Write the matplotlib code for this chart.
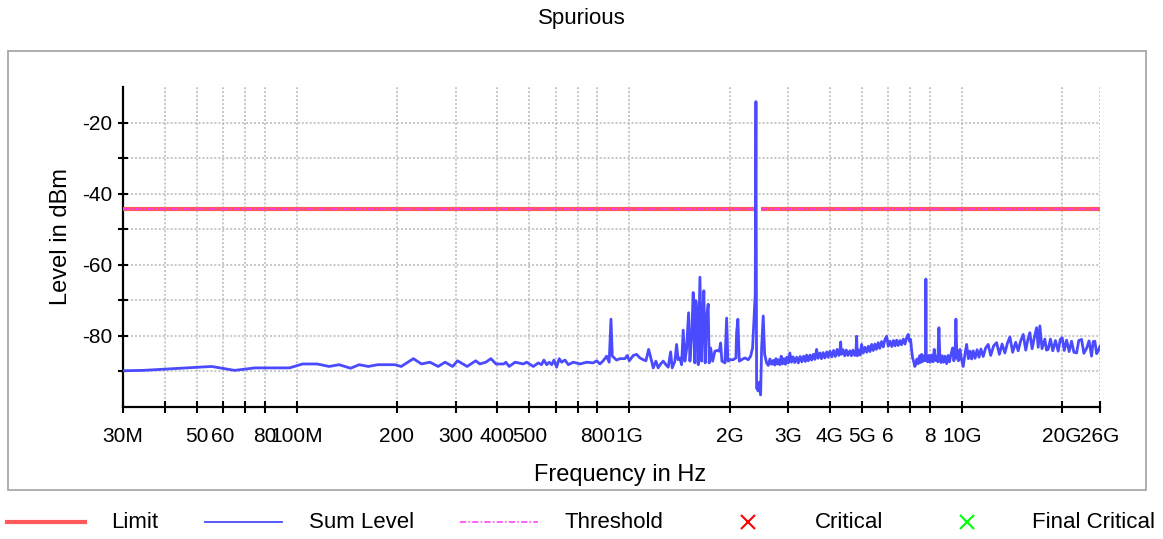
import numpy as np
import matplotlib
matplotlib.use("Agg")
import matplotlib.pyplot as plt
from matplotlib.lines import Line2D
from matplotlib.patches import Rectangle

plt.rcParams['font.family'] = ['Liberation Sans', 'DejaVu Sans']

# Sum level trace (frequency in MHz, level in dBm)
# 30 MHz - 1 GHz
freq_a = [30, 34.5, 55.4, 65, 74.8, 95, 104, 115, 125, 134, 145, 154, 164, 175, 197, 206,
          224, 237, 251, 266, 279, 294, 304, 325, 345, 355, 370, 383, 397, 419, 425, 435,
          453, 479, 491, 514, 532, 544, 553, 564, 574, 584, 593, 604, 615, 625, 640, 655,
          678, 710, 744, 778, 797, 815, 834, 854, 869, 880, 888, 915, 936, 969, 985, 999]
level_a = [-89.8, -89.7, -88.6, -89.7, -89.0, -89.0, -87.9, -87.9, -88.6, -88.1, -89.1, -88.1,
           -88.6, -88.1, -88.1, -88.6, -86.4, -87.9, -87.4, -88.6, -87.4, -88.6, -87.0, -88.6,
           -87.0, -87.9, -87.4, -86.4, -87.9, -87.9, -87.4, -88.6, -87.4, -87.9, -87.4, -88.6,
           -87.6, -88.1, -86.8, -88.1, -87.4, -88.1, -86.8, -88.8, -86.4, -87.4, -86.8, -88.1,
           -87.4, -87.9, -87.4, -87.6, -87.0, -87.9, -87.0, -85.7, -87.4, -75.3, -85.7, -86.8,
           -86.4, -86.4, -85.5, -87.0]

# 1 GHz - 2.55 GHz
freq_b = [1027, 1051, 1075, 1100, 1121, 1142, 1166, 1179, 1201, 1220, 1241, 1264, 1287, 1308,
          1330, 1345, 1370, 1386, 1401, 1418, 1435, 1451, 1468, 1485, 1506, 1520, 1538, 1555,
          1573, 1584, 1598, 1610, 1629, 1648, 1659, 1674, 1689, 1706, 1725, 1737, 1754, 1779,
          1807, 1836, 1862, 1880, 1897, 1937, 1960, 1977, 2005, 2051, 2090, 2100, 2119, 2139,
          2174, 2225, 2276, 2314, 2346, 2368, 2389, 2401, 2412, 2439, 2459, 2480, 2497, 2525,
          2550]
level_b = [-85.5, -85.2, -86.2, -86.7, -87.0, -83.8, -87.1, -89.0, -87.1, -89.0, -87.9, -87.1,
           -88.1, -88.8, -84.5, -89.0, -87.1, -82.4, -86.7, -86.2, -88.1, -78.4, -87.1, -83.8,
           -73.5, -87.1, -80.5, -67.8, -87.6, -70.1, -74.4, -88.1, -63.5, -87.1, -75.3, -67.3,
           -87.6, -74.9, -71.1, -87.6, -83.4, -87.1, -84.3, -84.1, -84.3, -82.0, -87.1, -87.6,
           -75.0, -87.1, -86.7, -86.7, -86.2, -79.1, -75.3, -87.1, -86.7, -86.2, -86.7, -85.7,
           -83.4, -75.8, -68.2, -14.1, -94.7, -95.5, -93.0, -96.6, -83.4, -74.4, -85.2]

# 2.55 GHz - 26 GHz
freq_c = [2585, 2615, 2645, 2675, 2706, 2735, 2757, 2780, 2801, 2830, 2860, 2885, 2915, 2945,
          2975, 3005, 3037, 3070, 3105, 3140, 3183, 3220, 3260, 3300, 3340, 3380, 3411, 3450,
          3490, 3530, 3571, 3610, 3655, 3690, 3740, 3780, 3826, 3870, 3920, 3960, 4008, 4060,
          4110, 4160, 4210, 4260, 4300, 4317, 4335, 4390, 4440, 4490, 4540, 4600, 4650, 4700,
          4760, 4800, 4821, 4845, 4890, 4940, 4990, 5050, 5110, 5170, 5230, 5290, 5349, 5410,
          5470, 5530, 5598, 5660, 5730, 5800, 5865, 5934, 6000, 6072, 6150, 6220, 6290, 6360,
          6430, 6508, 6580, 6660, 6740, 6815, 6890, 6950, 7006, 7060, 7103, 7167, 7210, 7253,
          7320, 7386, 7450, 7510, 7561, 7620, 7680, 7740, 7770, 7788, 7810, 7880, 7950, 8020,
          8103, 8180, 8250, 8320, 8400, 8460, 8523, 8580, 8650, 8720, 8800, 8880, 8989, 9080,
          9170, 9260, 9371, 9450, 9530, 9588, 9650, 9760, 9857, 9960, 10084, 10200, 10325,
          10450, 10570, 10690, 10806, 10950, 11100, 11250, 11400, 11580, 11780, 11987, 12200,
          12450, 12709, 12950, 13200, 13459, 13700, 13934, 14200, 14500, 14756, 15000, 15277,
          15550, 15800, 15999, 16250, 16500, 16758, 16950, 17145, 17400, 17749, 17950, 18158,
          18450, 18750, 19100, 19461, 19750, 20007, 20300, 20630, 21000, 21354, 21700, 22107,
          22450, 22884, 23250, 23690, 24100, 24524, 24800, 25093, 25400, 25672, 26000]
level_c = [-87.6, -88.3, -86.5, -88.0, -86.9, -88.2, -86.4, -87.9, -86.7, -88.1, -85.7, -87.9,
           -86.4, -88.0, -86.0, -87.6, -84.8, -87.4, -85.9, -87.5, -86.0, -87.6, -85.8, -87.3,
           -85.7, -87.2, -85.4, -87.0, -85.4, -86.8, -85.2, -86.6, -83.8, -86.3, -84.8, -86.4,
           -84.7, -86.2, -84.5, -86.0, -84.3, -85.9, -84.1, -85.8, -83.8, -85.5, -83.6, -81.7,
           -85.2, -83.9, -85.6, -84.0, -85.5, -84.2, -85.6, -84.0, -85.5, -84.3, -80.1, -85.6,
           -84.0, -85.4, -82.4, -84.8, -83.2, -84.6, -82.9, -84.4, -82.4, -84.1, -82.3, -83.8,
           -81.9, -83.5, -81.6, -83.1, -81.0, -80.1, -82.9, -81.5, -83.0, -81.3, -82.8, -81.2,
           -82.7, -81.3, -82.5, -80.9, -82.3, -80.5, -79.6, -81.5, -81.0, -84.3, -86.2, -87.4,
           -88.6, -88.2, -86.5, -87.8, -85.6, -87.5, -85.2, -87.2, -85.6, -87.0, -85.8, -64.0,
           -85.7, -87.3, -85.5, -87.4, -85.4, -87.3, -83.8, -86.9, -85.7, -87.3, -77.7, -86.0,
           -87.5, -85.6, -87.4, -85.7, -87.8, -85.5, -87.3, -85.3, -83.4, -87.0, -85.8, -75.3,
           -86.0, -87.0, -83.8, -86.5, -88.6, -85.3, -82.4, -86.4, -84.3, -86.5, -84.2, -86.3,
           -83.9, -86.0, -83.7, -85.8, -83.4, -82.4, -85.5, -82.8, -81.9, -85.2, -82.3, -84.8,
           -82.0, -80.3, -84.6, -81.8, -84.2, -81.5, -79.6, -84.0, -80.8, -79.1, -83.6, -80.5,
           -77.7, -83.2, -77.2, -83.6, -80.9, -84.0, -83.8, -80.9, -84.2, -81.3, -84.3, -81.0,
           -80.5, -84.1, -81.2, -84.4, -81.5, -84.6, -84.8, -81.3, -81.0, -84.9, -83.5, -81.4,
           -85.7, -81.6, -81.5, -85.0, -84.3, -82.9]

# limit / threshold (gap over the 2.4 GHz ISM band)
limit_freq_lo = [30, 2400]
limit_freq_hi = [2483.5, 26000]
limit_level = -44.2

xtick_vals = [30, 40, 50, 60, 70, 80, 100, 200, 300, 400, 500, 600, 700, 800, 1000,
              2000, 3000, 4000, 5000, 6000, 7000, 8000, 10000, 20000, 26000]
xtick_labels = ['30M', '', '50', '60', '', '80', '100M', '200', '300', '400', '500', '', '',
                '800', '1G', '2G', '3G', '4G', '5G', '6', '', '8', '10G', '20G', '26G']
ytick_vals = [-90, -80, -70, -60, -50, -40, -30, -20]
ytick_labels = ['', '-80', '', '-60', '', '-40', '', '-20']

freq = freq_a + freq_b + freq_c
level = level_a + level_b + level_c

fig = plt.figure(figsize=(11.63, 5.39), dpi=100)
fig.patch.set_facecolor('white')

# outer frame of the chart panel
fig.add_artist(Rectangle((0.0069, 0.0909), 0.9785, 0.8145, transform=fig.transFigure,
                         fill=False, edgecolor='#a8a8a8', linewidth=1.3))

ax = fig.add_axes([0.10576, 0.2449, 0.84007, 0.59369])
ax.set_xscale('log')
ax.set_xlim(30, 26000)
ax.set_ylim(-100, -10)

thr_style = (0, (4, 1.5, 1, 1.5))
ax.plot(limit_freq_lo, [limit_level] * 2, color='#ff5a5a', lw=3, solid_capstyle='butt', zorder=3)
ax.plot(limit_freq_hi, [limit_level] * 2, color='#ff5a5a', lw=3, solid_capstyle='butt', zorder=3)
ax.plot(limit_freq_lo, [limit_level] * 2, color='#ff33ff', lw=1.1, ls=thr_style, zorder=4)
ax.plot(limit_freq_hi, [limit_level] * 2, color='#ff33ff', lw=1.1, ls=thr_style, zorder=4)
ax.plot(freq, level, color='#4a4aff', lw=2.0, zorder=5)

ax.xaxis.set_major_locator(plt.FixedLocator(xtick_vals))
ax.xaxis.set_minor_locator(plt.NullLocator())
ax.set_xticks(xtick_vals)
ax.set_xticklabels(xtick_labels)
ax.set_yticks(ytick_vals)
ax.set_yticklabels(ytick_labels)

ax.grid(True, color='#b8b8b8', linestyle=(0, (1.3, 1.3)), linewidth=1.1)
ax.set_axisbelow(True)

for s in ['top', 'right']:
    ax.spines[s].set_visible(False)
for s in ['left', 'bottom']:
    ax.spines[s].set_linewidth(1.6)
    ax.spines[s].set_color('black')

ax.tick_params(axis='x', direction='inout', length=9, width=1.5, labelsize=15, pad=10)
ax.tick_params(axis='y', direction='inout', length=7, width=1.5, labelsize=15, pad=4)

ax.set_xlabel('Frequency in Hz', fontsize=17)
ax.set_ylabel('Level in dBm', fontsize=17)
ax.xaxis.set_label_coords(0.5087, -0.177)
ax.yaxis.set_label_coords(-0.052, 0.534)

fig.text(0.5004, 0.9666, 'Spurious', fontsize=16, ha='center', va='center')

# legend along the bottom
ly = 0.0315
fs = 16
fig.add_artist(Line2D([0.006, 0.0731], [ly, ly], color='#ff5a5a', lw=3, transform=fig.transFigure))
fig.text(0.0954, ly, 'Limit', fontsize=fs, va='center')
fig.add_artist(Line2D([0.1763, 0.2425], [ly, ly], color='#4a4aff', lw=1.3, transform=fig.transFigure))
fig.text(0.2657, ly, 'Sum Level', fontsize=fs, va='center')
fig.add_artist(Line2D([0.3955, 0.4626], [ly, ly], color='#ff33ff', lw=1.1,
                      ls=thr_style, transform=fig.transFigure))
fig.text(0.4850, ly, 'Threshold', fontsize=fs, va='center')
fig.add_artist(Line2D([0.6432], [ly], color='#ff0000', marker='x', markersize=10, mew=1.5,
                      lw=0, transform=fig.transFigure))
fig.text(0.7008, ly, 'Critical', fontsize=fs, va='center')
fig.add_artist(Line2D([0.8315], [ly], color='#00ff00', marker='x', markersize=10, mew=1.5,
                      lw=0, transform=fig.transFigure))
fig.text(0.8874, ly, 'Final Critical', fontsize=fs, va='center')

fig.savefig('out.png', dpi=100)
